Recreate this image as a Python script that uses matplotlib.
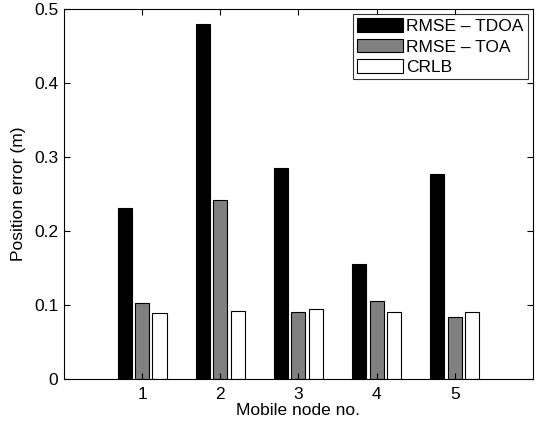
import matplotlib

matplotlib.use("Agg")
import matplotlib.pyplot as plt
import numpy as np

plt.rcParams["font.family"] = ["Liberation Sans", "DejaVu Sans"]

nodes = [1, 2, 3, 4, 5]
rmse_tdoa = [0.231, 0.479, 0.285, 0.155, 0.277]
rmse_toa = [0.102, 0.2415, 0.091, 0.105, 0.084]
crlb = [0.089, 0.092, 0.094, 0.091, 0.091]

fig = plt.figure(figsize=(5.39, 4.26), dpi=100)
ax = fig.add_axes([0.1187, 0.1103, 0.870, 0.869])

x = np.array(nodes)
w = 0.18
off = 0.222
ax.bar(x - off, rmse_tdoa, w, color="black", edgecolor="black", linewidth=0.8, label="RMSE \u2013 TDOA")
ax.bar(x, rmse_toa, w, color="#808080", edgecolor="black", linewidth=0.8, label="RMSE \u2013 TOA")
ax.bar(x + off, crlb, w, color="white", edgecolor="black", linewidth=0.8, label="CRLB")

ax.set_xlim(0, 6)
ax.set_ylim(0, 0.5)
ax.set_xticks(nodes)
ax.set_yticks([0, 0.1, 0.2, 0.3, 0.4, 0.5])
ax.set_yticklabels(["0", "0.1", "0.2", "0.3", "0.4", "0.5"])
ax.tick_params(direction="in", top=True, right=True, labelsize=12.5, length=4, pad=4)
ax.tick_params(axis="x", pad=6)
ax.set_xlabel("Mobile node no.", fontsize=12.5, labelpad=0.5)
ax.set_ylabel("Position error (m)", fontsize=12.5, labelpad=6)

leg = ax.legend(loc="upper right", fontsize=12.5, fancybox=False, edgecolor="black",
                handlelength=2.6, handleheight=0.85, borderpad=0.25, labelspacing=0.25,
                handletextpad=0.2, borderaxespad=0.3)
leg.get_frame().set_linewidth(0.8)

fig.savefig("out.png", dpi=100, facecolor="white")
